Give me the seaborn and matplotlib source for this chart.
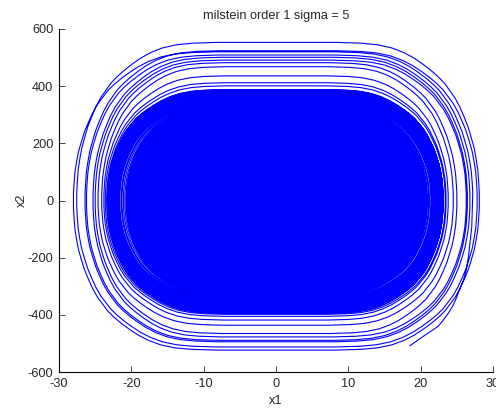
import numpy as np
import pandas as pd
import seaborn as sns
import matplotlib
matplotlib.use("Agg")
import matplotlib.pyplot as plt

# normalised quarter-loop outline (x1/R, x2/T)
shape_u = [0.00, 0.30, 0.42, 0.50, 0.57, 0.63, 0.68, 0.725, 0.765, 0.80, 0.83, 0.855,
           0.88, 0.905, 0.925, 0.945, 0.96, 0.975, 0.985, 0.993, 0.997, 1.00, 1.00]
shape_v = [1.00, 1.00, 0.995, 0.985, 0.965, 0.935, 0.90, 0.86, 0.82, 0.78, 0.74, 0.695,
           0.65, 0.59, 0.53, 0.465, 0.40, 0.33, 0.26, 0.19, 0.12, 0.05, 0.00]

# solid core of the orbit (half widths / heights)
core_right, core_left, core_top, core_bottom = 21.0, 20.8, 335, 337

# dense band of loops around the core
band_right = [20.8, 20.9, 21.1, 21.2, 21.4, 21.5, 21.6, 21.7, 21.8, 21.9, 22.0, 22.1,
              22.2, 22.2, 22.3, 22.4, 22.4, 22.5, 22.6, 22.6, 22.7, 22.7, 22.8, 22.8,
              22.9, 22.9, 23.0, 23.0, 23.0, 23.1, 23.1, 23.1]
band_left = [20.7, 20.9, 21.1, 21.3, 21.4, 21.6, 21.7, 21.8, 21.9, 22.0, 22.1, 22.2,
             22.3, 22.4, 22.4, 22.5, 22.6, 22.6, 22.7, 22.8, 22.8, 22.9, 22.9, 23.0,
             23.0, 23.1, 23.1, 23.2, 23.2, 23.3, 23.3, 23.4]
band_top = [318, 322, 326, 330, 333, 336, 339, 342, 345, 348, 351, 353, 355, 357, 359, 361,
            363, 365, 367, 369, 371, 372, 374, 376, 377, 379, 380, 382, 384, 385, 387, 388]
band_bottom = [320, 324, 328, 332, 336, 339, 342, 345, 348, 351, 354, 356, 358, 361, 363, 365,
               367, 369, 371, 373, 375, 377, 378, 380, 382, 383, 385, 387, 389, 390, 392, 394]

# outer excursions
ring_right = [23.4, 23.5, 23.8, 24.5, 25.0, 26.3, 26.45, 26.8, 27.8, 28.1]
ring_left = [23.6, 23.8, 24.1, 24.6, 25.0, 25.3, 26.2, 26.4, 27.55, 28.0]
ring_top = [401, 412, 436, 468, 482, 491, 501, 509, 524, 553]
ring_bottom = [398, 405, 418, 436, 465, 477, 489, 494, 512, 523]

# last arc of the trajectory
final_right, final_top = 27.2, 520
tail_x1 = [27.06, 26.8, 26.6, 26.3, 25.9, 25.4, 25.0, 24.5, 23.8, 23.1, 22.4, 21.3, 19.9, 18.5]
tail_x2 = [-92, -150, -197, -244, -279, -308, -337, -366, -395, -419, -440, -459, -483, -508]


def quarter(sx, sy, a, b, forward=True):
    u = np.array(shape_u)
    v = np.array(shape_v)
    if not forward:
        u, v = u[::-1], v[::-1]
    return list(sx * u * a), list(sy * v * b)


R = band_right + ring_right
L = band_left + ring_left
T = band_top + ring_top + [final_top]
B = band_bottom + ring_bottom

x1, x2 = [], []
for i in range(len(R)):
    for part in (quarter(1, 1, R[i], T[i], True),
                 quarter(1, -1, R[i], B[i], False),
                 quarter(-1, -1, L[i], B[i], True),
                 quarter(-1, 1, L[i], T[i + 1], False)):
        x1 += part[0]
        x2 += part[1]
q = quarter(1, 1, final_right, final_top, True)
x1 += q[0][:-1] + tail_x1
x2 += q[1][:-1] + tail_x2

df = pd.DataFrame({"x1": x1, "x2": x2})

# core outline
cx, cy = [], []
for part in (quarter(1, 1, core_right, core_top, True),
             quarter(1, -1, core_right, core_bottom, False),
             quarter(-1, -1, core_left, core_bottom, True),
             quarter(-1, 1, core_left, core_top, False)):
    cx += part[0]
    cy += part[1]

sns.set_style("ticks")
plt.rcParams["font.family"] = ["Liberation Sans", "DejaVu Sans"]
plt.rcParams["axes.unicode_minus"] = False

fig = plt.figure(figsize=(4.96, 4.08), dpi=100)
ax = fig.add_axes([0.119, 0.088, 0.875, 0.841])

ax.fill(cx, cy, color="blue", lw=0)
sns.lineplot(data=df, x="x1", y="x2", sort=False, estimator=None,
             color="blue", lw=0.8, ax=ax)

ax.set_xlim(-30, 30)
ax.set_ylim(-600, 600)
ax.set_xticks([-30, -20, -10, 0, 10, 20, 30])
ax.set_yticks([-600, -400, -200, 0, 200, 400, 600])
ax.tick_params(direction="in", length=4, labelsize=9.2, pad=4, width=0.6)
for s in ("left", "bottom"):
    ax.spines[s].set_linewidth(0.8)
    ax.spines[s].set_color("black")
sns.despine(ax=ax)

ax.set_title("milstein order 1 sigma = 5", fontsize=9.2, pad=7)
ax.set_xlabel("x1", fontsize=9.2, labelpad=4)
ax.set_ylabel("x2", fontsize=9.2, labelpad=0)

fig.savefig("out.png", dpi=100)
